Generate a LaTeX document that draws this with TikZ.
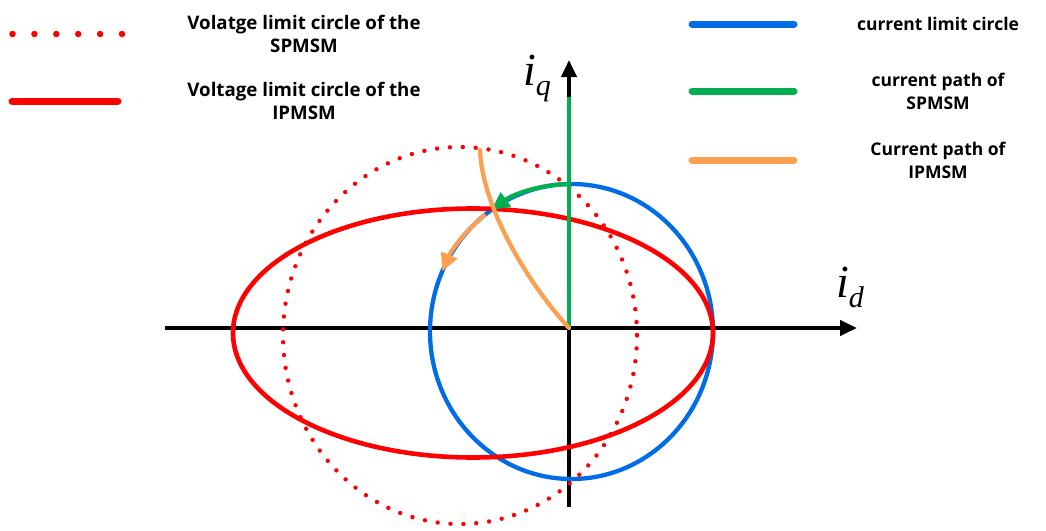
\documentclass[tikz,border=0pt]{standalone}
\usepackage{fontspec}
\setmainfont{Open Sans}
\newfontfamily\tmsfont{Liberation Serif}
\usetikzlibrary{arrows.meta}
\definecolor{vred}{RGB}{255,0,0}
\definecolor{cblue}{RGB}{0,108,230}
\definecolor{pgreen}{RGB}{0,176,80}
\definecolor{porange}{RGB}{250,160,80}
\begin{document}
\begin{tikzpicture}[x=1pt,y=-1pt,
  axisline/.style={line width=4pt,black,-{Triangle[length=17pt,width=15pt]}},
  legtext/.style={align=center,font=\fontsize{17.5}{23}\selectfont\bfseries,inner sep=0pt},
  lefttext/.style={legtext,font=\fontsize{18.7}{23}\selectfont\bfseries},
  legline/.style={line width=7pt,line cap=round},
  curve/.style={line width=4.3pt},
  pathtip/.style={-{Triangle[length=18pt,width=17pt]}},
  axlabel/.style={inner sep=0pt,font=\tmsfont\itshape}]
\useasboundingbox (0,0) rectangle (1046,530);
% origin and axes
\coordinate (O) at (569,328);
\coordinate (xs) at (165,328);
\coordinate (xe) at (857,328);
\coordinate (ys) at (569,507);
\coordinate (ye) at (569,60);
\draw[axisline] (xs) -- (xe);
\draw[axisline] (ys) -- (ye);
% current limit circle
\draw[curve,cblue] (571.5,331.5) ellipse [x radius=141.5, y radius=147.5];
% voltage limit circle of SPMSM (dotted)
\draw[vred,line width=4.4pt,line cap=round,dash pattern=on 0pt off 12.9pt] (460,335.5) ellipse [x radius=177, y radius=188.5];
% voltage limit circle of IPMSM
\draw[curve,vred,line width=4.6pt] (473,333) ellipse [x radius=240, y radius=124.5];
% current path of SPMSM
\coordinate (gtop) at (569,97);
\draw[curve,pgreen] (O) -- (gtop);
\coordinate (gs) at ([shift={(571.5,331.5)}]-91:141.5 and 147.5);
\draw[curve,pgreen,pathtip] (gs) arc[start angle=-91,end angle=-124.5,x radius=141.5,y radius=147.5];
% current path of IPMSM
\coordinate (ot) at (480,150);
\draw[curve,porange,line cap=round] (O) .. controls (525,280) and (482,205) .. (ot);
\coordinate (os) at ([shift={(571.5,331.5)}]-127.5:141.5 and 147.5);
\draw[curve,porange,pathtip] (os) arc[start angle=-127.5,end angle=-156,x radius=141.5,y radius=147.5];
% axis labels
\node[axlabel] (iq) at (537,78) {{\fontsize{46}{46}\selectfont i}\raisebox{-10pt}{\fontsize{30}{30}\selectfont q}};
\node[axlabel] (id) at (850,287) {{\fontsize{46}{46}\selectfont i}\raisebox{-10pt}{\fontsize{30}{30}\selectfont d}};
% left legend
\draw[vred,line width=6.5pt,line cap=round,dash pattern=on 0pt off 21.9pt] (12.5,34) -- (122.5,34);
\node[lefttext] (l1) at (304,34) {Volatge limit circle of the\\SPMSM};
\draw[legline,vred] (12,101) -- (118,101);
\node[lefttext] (l2) at (304,101) {Voltage limit circle of the\\IPMSM};
% right legend
\draw[legline,cblue] (692,24) -- (794,24);
\node[legtext] (r1) at (938,24) {current limit circle};
\draw[legline,pgreen] (692,91) -- (794,91);
\node[legtext] (r2) at (938,91) {current path of\\SPMSM};
\draw[legline,porange] (692,160) -- (794,160);
\node[legtext] (r3) at (938,160) {Current path of\\IPMSM};
\end{tikzpicture}
\end{document}
